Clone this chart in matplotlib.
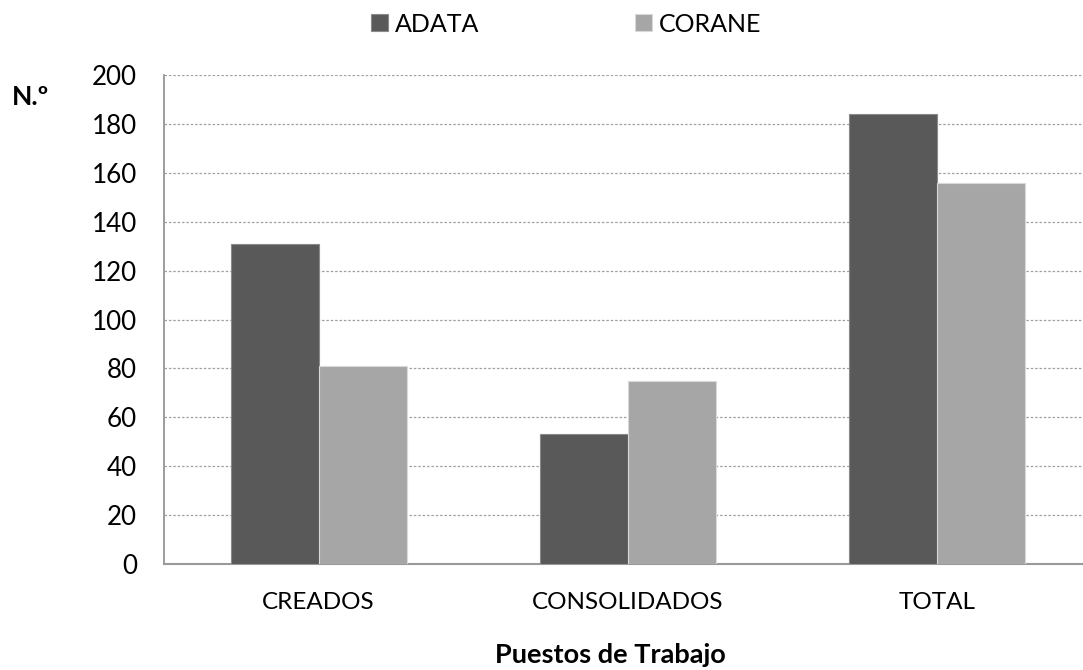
import matplotlib.pyplot as plt
import numpy as np

categories = ["CREADOS", "CONSOLIDADOS", "TOTAL"]
adata = [131, 53, 184]
corane = [81, 75, 156]
series_names = ["ADATA", "CORANE"]

plt.rcParams["font.family"] = ["Lato", "DejaVu Sans"]

fig = plt.figure(figsize=(10.83, 6.7), dpi=100)
# right edge of the plot runs past the figure, as in the reference
ax = fig.add_axes([164 / 1083, 1 - 564 / 670, 928 / 1083, 489 / 670])

x = np.arange(len(categories))
w = 0.285
ax.bar(x - w / 2, adata, w, color="#595959", edgecolor="#8a8a8a", linewidth=0.8,
       label=series_names[0], zorder=3)
ax.bar(x + w / 2, corane, w, color="#a6a6a6", edgecolor="#d9d9d9", linewidth=0.8,
       label=series_names[1], zorder=3)

ax.set_xlim(-0.5, 2.5)
ax.set_ylim(0, 200)
ax.set_yticks(range(0, 201, 20))
ax.set_xticks(x)
ax.set_xticklabels(categories, fontsize=17.5)
ax.tick_params(axis="y", labelsize=18.7, length=0, pad=19.5)
ax.tick_params(axis="x", length=0, pad=20)

ax.yaxis.grid(True, linestyle=(0, (2, 1.5)), color="#a0a0a0", linewidth=0.9, zorder=0)
for s in ["top", "right"]:
    ax.spines[s].set_visible(False)
ax.spines["left"].set_color("#8c8c8c")
ax.spines["left"].set_linewidth(1.2)
ax.spines["bottom"].set_color("#999999")
ax.spines["bottom"].set_linewidth(1.5)

fig.text(12 / 1083, 1 - 97 / 670, "N.º", fontsize=19, fontweight="bold", va="center")
fig.text(610 / 1083, 1 - 663 / 670, "Puestos de Trabajo", fontsize=19.5,
         fontweight="bold", ha="center", va="baseline")

fig.legend(loc="center", bbox_to_anchor=(566 / 1083, 1 - 24 / 670), ncol=2,
           frameon=False, fontsize=18, handlelength=0.68, handleheight=0.68,
           handletextpad=0.28, columnspacing=6.2, borderaxespad=0, borderpad=0)

fig.savefig("out.png", dpi=100)
